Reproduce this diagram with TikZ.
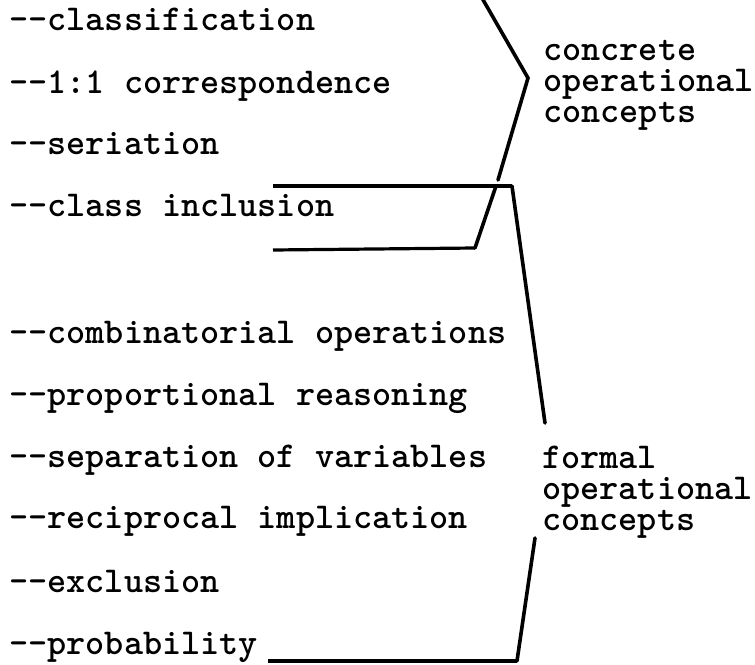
\documentclass[tikz,border=0pt]{standalone}
\begin{document}
\begin{tikzpicture}[x=0.5pt,y=-0.5pt,
  item/.style={anchor=base west,inner sep=0pt,font=\ttfamily\bfseries\fontsize{18.2}{15.5}\selectfont},
  lbl/.style={anchor=base west,inner sep=0pt,align=left,font=\ttfamily\bfseries\fontsize{18.2}{15.5}\selectfont},
  brk/.style={line width=1.8pt,line cap=round,line join=miter}]
\useasboundingbox (0,0) rectangle (755,664);
% concrete items
\node[item] (i1) at (9,30) {--classification};
\node[item] (i2) at (9,93) {--1:1 correspondence};
\node[item] (i3) at (9,154) {--seriation};
\node[item] (i4) at (9,216) {--class inclusion};
% formal items
\node[item] (f1) at (9,343) {--combinatorial operations};
\node[item] (f2) at (9,405) {--proportional reasoning};
\node[item] (f3) at (9,467) {--separation of variables};
\node[item] (f4) at (9,528) {--reciprocal implication};
\node[item] (f5) at (9,592) {--exclusion};
\node[item] (f6) at (9,654) {--probability};
% labels (base anchor = last line)
\node[lbl] (cc) at (543,122) {concrete\\operational\\concepts};
\node[lbl] (fc) at (542,530) {formal\\operational\\concepts};
% bracket coordinates
\coordinate (ct) at (482,-2);
\coordinate (cm) at (528,78);
\coordinate (cb) at (498,180);
\coordinate (bl) at (273,186);
\coordinate (br) at (512,186);
\coordinate (fa) at (545,423);
\coordinate (ll) at (273,250);
\coordinate (lr) at (475,248);
\coordinate (lu) at (496,186);
\coordinate (fb) at (535,538);
\coordinate (fr) at (517,661);
\coordinate (fl) at (268,661);
% concrete bracket
\draw[brk] (ct) -- (cm) -- (cb);
% class inclusion bracket
\draw[line width=1.6pt] (bl) -- (br);
\draw[brk] (br) -- (fa);
\draw[line width=1.6pt] (ll) -- (lr);
\draw[brk] (lr) -- (lu);
% formal bracket bottom
\draw[brk] (fb) -- (fr);
\draw[line width=1.6pt] (fr) -- (fl);
\end{tikzpicture}
\end{document}
